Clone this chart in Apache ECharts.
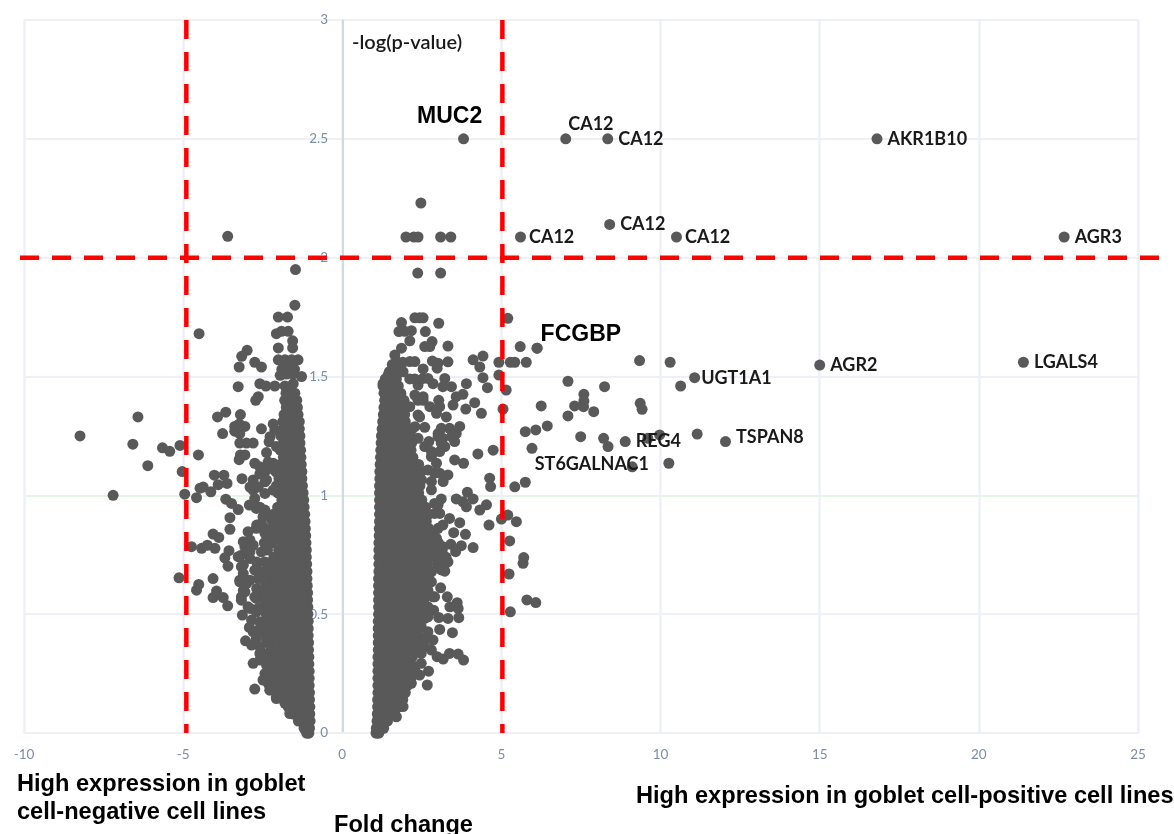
<!DOCTYPE html>
<html><head><meta charset="utf-8">
<style>html,body{margin:0;padding:0;background:#fff}#c{width:1174px;height:834px}</style>
<script src="https://cdn.jsdelivr.net/npm/echarts@6/dist/echarts.min.js"></script>
</head><body><div id="c"></div>
<script>
const xTicks=[-10,25];
const yTicks=[0,3];
// dense body of the negative fold-change arm: [y, x, x, ...]
const negDense=[
[0,-1.05,-1.08,-1.12],[.02,-1.03,-1.1,-1.2],[.05,-1.01,-1.15,-1.3,-1.38],
[.08,-1.02,-1.2,-1.38,-1.54],[.11,-1.02,-1.22,-1.45,-1.7],[.14,-1.03,-1.16,-1.38,-1.62,-1.84],
[.17,-1.03,-1.26,-1.5,-1.75,-1.98],[.2,-1.04,-1.16,-1.4,-1.65,-1.88,-2.09],[.23,-1.04,-1.28,-1.52,-1.76,-2,-2.2],
[.26,-1.04,-1.16,-1.4,-1.65,-1.88,-2.12,-2.29],[.29,-1.05,-1.28,-1.52,-1.76,-2,-2.25],[.32,-1.05,-1.16,-1.4,-1.65,-1.88,-2.12,-2.3],
[.35,-1.06,-1.28,-1.52,-1.76,-2,-2.25],[.38,-1.06,-1.16,-1.4,-1.65,-1.88,-2.12,-2.35],[.41,-1.07,-1.28,-1.52,-1.76,-2,-2.25],
[.44,-1.07,-1.16,-1.4,-1.65,-1.88,-2.12,-2.37],[.47,-1.07,-1.28,-1.52,-1.76,-2,-2.25,-2.45],[.5,-1.08,-1.16,-1.4,-1.65,-1.88,-2.12,-2.38],
[.53,-1.08,-1.28,-1.52,-1.76,-2,-2.25,-2.49],[.56,-1.09,-1.18,-1.4,-1.65,-1.88,-2.12,-2.35],[.59,-1.09,-1.28,-1.52,-1.76,-2,-2.25,-2.53],
[.62,-1.1,-1.18,-1.4,-1.65,-1.88,-2.12,-2.37],[.65,-1.11,-1.28,-1.52,-1.76,-2,-2.25],[.68,-1.11,-1.2,-1.4,-1.65,-1.88,-2.12,-2.33],
[.71,-1.12,-1.3,-1.52,-1.76,-2,-2.27],[.74,-1.13,-1.2,-1.4,-1.65,-1.88,-2.15],[.77,-1.13,-1.3,-1.52,-1.76,-2,-2.35],
[.8,-1.14,-1.2,-1.4,-1.65,-1.88,-2.19,-2.45],[.83,-1.15,-1.3,-1.52,-1.76,-2.03,-2.33],[.86,-1.16,-1.22,-1.4,-1.65,-1.88,-2.17,-2.41],
[.89,-1.17,-1.32,-1.52,-1.76,-2.05],[.92,-1.18,-1.25,-1.42,-1.65,-1.9,-2.17],[.95,-1.2,-1.35,-1.55,-1.78,-2.03],
[.98,-1.21,-1.27,-1.42,-1.65,-1.9],[1.01,-1.23,-1.35,-1.55,-1.78,-2.03],[1.04,-1.25,-1.3,-1.42,-1.65,-1.87,-2.07],
[1.07,-1.27,-1.37,-1.55,-1.78,-1.99],[1.1,-1.27,-1.33,-1.45,-1.65,-1.87,-2.09],[1.13,-1.29,-1.39,-1.55,-1.78,-1.95],
[1.16,-1.3,-1.35,-1.47,-1.66,-1.85],[1.19,-1.31,-1.41,-1.57,-1.78,-1.95],[1.22,-1.33,-1.37,-1.49,-1.66,-1.85],
[1.25,-1.33,-1.43,-1.57,-1.76,-1.93],[1.28,-1.35,-1.41,-1.5,-1.68,-1.85],[1.31,-1.35,-1.45,-1.6,-1.78,-1.87],
[1.34,-1.39,-1.43,-1.52,-1.68,-1.83],[1.37,-1.41,-1.47,-1.6,-1.76],[1.4,-1.43,-1.49,-1.66,-1.81],[1.43,-1.49,-1.59,-1.72,-1.77]
];
// dense body of the positive fold-change arm: [y, x, x, ...]
const posDense=[
[0,1.06,1.1,1.15],[.02,1.07,1.18,1.3],[.05,1.09,1.25,1.42],[.08,1.1,1.27,1.48,1.65],
[.11,1.11,1.23,1.46,1.66,1.78],[.14,1.11,1.34,1.58,1.8,1.9],[.17,1.12,1.23,1.46,1.7,1.9,1.98],
[.2,1.12,1.34,1.58,1.82,2.05],[.23,1.12,1.23,1.46,1.7,1.94,2.16],[.26,1.12,1.34,1.58,1.82,2.05,2.14],
[.29,1.12,1.23,1.46,1.7,1.94,2.16],[.32,1.12,1.34,1.58,1.82,2.05,2.2],[.35,1.13,1.23,1.46,1.7,1.94,2.18,2.34],
[.38,1.13,1.34,1.58,1.82,2.05,2.28,2.48],[.41,1.13,1.23,1.46,1.7,1.94,2.18,2.39],[.44,1.13,1.34,1.58,1.82,2.05,2.28],
[.47,1.13,1.23,1.46,1.7,1.94,2.18,2.34],[.5,1.14,1.34,1.58,1.82,2.05,2.28,2.48],[.53,1.14,1.23,1.46,1.7,1.94,2.18,2.42],
[.56,1.14,1.34,1.58,1.82,2.05,2.28,2.56],[.59,1.14,1.23,1.46,1.7,1.94,2.18,2.42,2.6],[.62,1.14,1.34,1.58,1.82,2.05,2.28,2.54],
[.65,1.14,1.23,1.46,1.7,1.94,2.18,2.42,2.68],[.68,1.15,1.34,1.58,1.82,2.05,2.28,2.54,2.79],[.71,1.15,1.23,1.46,1.7,1.94,2.18,2.42,2.67,2.99,3.22],
[.74,1.15,1.34,1.58,1.82,2.05,2.28,2.54,2.79,3.04,3.26],[.77,1.15,1.23,1.46,1.7,1.94,2.18,2.42,2.67,2.92,3.14],[.8,1.15,1.34,1.58,1.82,2.05,2.28,2.54,2.79,3.02],
[.83,1.16,1.23,1.46,1.7,1.94,2.18,2.42,2.67,2.89],[.86,1.16,1.34,1.58,1.82,2.05,2.28,2.54,2.72],[.89,1.17,1.23,1.46,1.7,1.94,2.18,2.42,2.64],
[.92,1.17,1.34,1.58,1.82,2.05,2.28,2.54,2.7],[.95,1.17,1.25,1.46,1.7,1.94,2.18,2.42,2.62],[.98,1.17,1.34,1.58,1.82,2.05,2.28,2.5],
[1.01,1.17,1.25,1.46,1.7,1.94,2.18,2.4],[1.04,1.17,1.34,1.58,1.82,2.05,2.28,2.44],[1.07,1.18,1.25,1.46,1.7,1.94,2.18,2.4],
[1.1,1.18,1.34,1.58,1.82,2.05,2.28,2.48],[1.13,1.19,1.25,1.46,1.7,1.94,2.14,2.4],[1.16,1.2,1.34,1.58,1.82,2.05,2.22],
[1.19,1.21,1.27,1.46,1.7,1.94,2.16],[1.22,1.22,1.37,1.58,1.82,2.05,2.18],[1.25,1.23,1.29,1.46,1.7,1.94,2.14],
[1.28,1.25,1.38,1.58,1.82,2.05,2.2],[1.31,1.27,1.33,1.48,1.7,1.92,1.98],[1.34,1.29,1.41,1.58,1.82,1.96],
[1.37,1.31,1.37,1.5,1.7,1.88],[1.4,1.33,1.43,1.58,1.82,1.94],[1.43,1.31,1.39,1.52,1.7,1.84],
[1.46,1.28,1.45,1.6,1.76],[1.49,1.35,1.49,1.7],[1.52,1.48,1.64],[1.55,1.57,1.7]
];
// clumped points along the outer edge of each body
const negEdge=[[-2.54,.882],[-2.7,.861],[-2.43,.84],[-2.9,.812],[-3.06,.784],[-2.8,.79],[-2.54,.762],[-2.38,.784],[-3.17,.748],[-2.9,.734],[-2.69,.72],[-2.43,.72],[-3.11,.706],[-2.75,.685],[-2.49,.678],[-3.22,.643],[-2.9,.643],[-2.64,.65],[-2.43,.636],[-3.11,.6],[-2.69,.608],[-2.43,.6],[-3.17,.573],[-2.7,.566],[-2.43,.559],[-2.9,.524],[-2.64,.524],[-2.43,.51],[-2.85,.475],[-2.59,.468],[-2.38,.468],[-2.8,.426],[-2.43,.419],[-2.7,.398],[-2.38,.391],[-2.59,.335],[-2.38,.328],[-2.38,.286],[-2.43,.25],[-2.22,.244],[-2.33,.209],[-2.12,.18],[-2.07,.145],[-1.8,.125],[-1.65,.082],[-2.7,.945],[-2.43,.938],[-2.49,.91],[-2.22,.896],[-2.59,1.09],[-2.38,1.106],[-2.8,1.022],[-2.43,1.008],[-2.17,1.022],[-2.12,1.275],[-2.27,1.247],[-2.07,1.205],[-2.17,1.135],[-2.01,1.09],[-2.43,1.057]];
const posEdge=[[1.44,1.506],[1.28,1.47],[1.6,1.54],[1.91,1.52],[2.38,1.464],[2.54,1.492],[2.28,1.422],[2.54,1.4],[2.38,1.4],[2.12,1.373],[2.38,1.338],[2.28,1.289],[2.12,1.26],[2.38,1.24],[2.59,1.205],[2.8,1.163],[2.69,1.107],[2.9,1.093],[2.49,1.065],[2.8,1.023],[3.01,1.26],[3.16,1.24],[3.43,1.247],[3.22,1.205],[3.06,1.184],[2.9,.966],[3.06,.924],[2.9,.924],[3.01,.861],[2.96,.819],[3.16,.784],[2.9,.756],[3.16,.749],[3.01,.707],[2.8,.678],[3.11,.686],[2.8,.636],[2.69,.601],[2.9,.573],[2.69,.531],[2.59,.482],[2.69,.489],[2.48,.447],[2.69,.426],[2.59,.398],[2.59,.363],[2.48,.335],[2.28,.265],[2.17,.209],[1.91,.111],[1.7,.068]];
// individually readable points, negative arm
const negSparse=[[-8.24,1.25],[-7.2,1],[-6.42,1.33],[-6.58,1.215],[-6.11,1.125],[-5.65,1.2],[-5.42,1.185],[-5.1,1.21],[-5.03,1.1],[-4.52,1.17],[-4.5,1.68],[-3.6,2.09],
[-1.47,1.95],[-1.49,1.8],[-2.01,1.75],[-1.72,1.75],[-2.07,1.68],[-1.91,1.69],[-1.7,1.69],[-1.56,1.65],[-2.01,1.62],[-1.56,1.62],[-2.99,1.61],[-3.16,1.585],[-2.75,1.56],[-2.54,1.54],[-3.24,1.54],
[-2.01,1.57],[-1.8,1.57],[-1.59,1.57],[-1.39,1.57],[-1.9,1.53],[-1.7,1.53],[-1.5,1.53],[-1.28,1.5],[-1.95,1.505],[-1.75,1.51],[-1.55,1.51],[-3.27,1.457],[-2.59,1.47],[-2.4,1.46],[-2.12,1.46],[-1.8,1.46],[-1.54,1.47],[-2.64,1.415],[-2.72,1.4],
[-3.66,1.35],[-3.92,1.33],[-3.2,1.34],[-3.38,1.29],[-3.24,1.3],[-3.06,1.29],[-3.38,1.27],[-3.22,1.26],[-3.76,1.26],[-2.54,1.28],[-2.3,1.225],[-2.17,1.3],[-3.22,1.22],[-3.01,1.22],[-2.8,1.22],[-3.06,1.17],[-3.2,1.17],[-3.24,1.15],[-2.38,1.18],[-2.75,1.135],[-2.33,1.14],
[-4.02,1.085],[-3.72,1.085],[-3.9,1.045],[-3.62,1.05],[-3.15,1.07],[-2.8,1.065],[-4.47,1.03],[-4.37,1.035],[-4.13,1.015],[-4.95,1.005],[-4.58,.99],[-2.9,1.035],[-2.64,1.035],[-2.38,1.065],[-2.54,1.105],[-2.59,1.12],
[-3.66,.984],[-3.48,.966],[-3.27,.94],[-3.53,.906],[-3.53,.857],[-4.06,.837],[-3.88,.823],[-4.74,.784],[-4.42,.777],[-4.24,.79],[-4,.777],[-3.56,.767],[-3.69,.737],[-3.59,.702],[-5.13,.653],[-4.06,.65],[-4.51,.625],[-4.58,.601],[-3.95,.597],[-4.06,.57],[-3.74,.57],[-3.6,.535],
[-2.92,.959],[-2.75,.987],[-2.59,.95],[-2.69,.875],[-2.96,.847],[-3.11,.805],[-2.9,.763],[-3.27,.742],[-3.17,.7],[-3.11,.671],[-2.69,.692],[-3.22,.636],[-3.01,.629],[-3.06,.594],[-3.17,.559],[-2.96,.531],[-3.14,.496],[-2.75,.573],[-2.7,.51],[-2.92,.444],[-2.64,.433],[-3.04,.388],[-2.85,.37],[-2.59,.363],[-2.8,.293],[-2.59,.307],[-2.49,.335],[-2.75,.185],[-2.49,.223],[-2.28,.18],[-2.07,.15]];
// individually readable points, positive arm
const posSparse=[[2.47,2.23],[2,2.087],[2.25,2.087],[2.38,2.087],[3.09,2.087],[3.41,2.087],[2.37,1.935],[3.09,1.935],
[2.28,1.747],[2.43,1.747],[2.54,1.747],[1.86,1.727],[3.03,1.724],[1.78,1.689],[2.17,1.693],[1.96,1.69],[2.61,1.689],[2.12,1.65],[2.82,1.647],[2.59,1.626],[2.75,1.626],[3.32,1.628],[1.86,1.619],[1.65,1.59],[1.7,1.563],[1.9,1.56],[2.12,1.563],[2.28,1.563],[2.83,1.565],[3.01,1.556],[3.32,1.562],[2.98,1.535],[2.54,1.532],
[4.11,1.57],[4.42,1.586],[4.32,1.54],[4.92,1.56],[5.2,1.745],[5.59,1.626],[5.28,1.56],[5.42,1.56],[5.78,1.56],[4.92,1.506],[4.42,1.495],[3.9,1.47],[4.56,1.453],[5.15,1.443],[2.85,1.47],[3.22,1.492],[3.16,1.457],[3.43,1.457],[2.69,1.492],[2.28,1.49],[2.12,1.49],
[3.79,1.425],[3.58,1.415],[3.48,1.38],[4.16,1.39],[3.88,1.363],[4.37,1.345],[5.05,1.363],[3.03,1.4],[2.75,1.373],[3.06,1.373],[2.96,1.345],[2.54,1.415],[3.27,1.33],[2.43,1.33],[2.59,1.286],[3.69,1.29],[3.37,1.282],[3.11,1.282],[3.01,1.247],[3.58,1.26],[3.53,1.226],[2.72,1.226],[3.11,1.219],[2.8,1.184],
[4.26,1.174],[4.74,1.19],[3.53,1.149],[3.81,1.135],[2.96,1.135],[3.32,1.086],[3.17,1.058],[2.8,1.058],[3.06,1.093],[4.63,1.072],[4.66,1.037],[5.42,1.036],[5.75,1.055],[3.93,1.013],[3.58,.985],[4.11,.985],[3.79,.973],[3.9,.952],[3.11,.985],[3.01,.96],[4.53,.96],[4.32,.938],
[5.2,.917],[5,.9],[5.47,.889],[4.61,.875],[5.26,.808],[5.7,.738],[5.68,.714],[5.24,.669],[5.8,.56],[6.08,.549],[5.28,.51],
[3.69,.885],[3.37,.903],[3.16,.875],[3.5,.843],[3.87,.836],[3.41,.794],[3.74,.788],[3.56,.763],[4.11,.78],[3.32,.72],[3.22,.681],[3.09,.611],[3.3,.573],[3.61,.548],[3.38,.531],[3.64,.524],[2.87,.517],[3.66,.485],[3.32,.482],[3.03,.486],[3.06,.436],[3.46,.422],[2.85,.573],[2.85,.391],[2.8,.349],[2.98,.321],[3.17,.311],[3.37,.335],[3.64,.332],[3.81,.307],[2.48,.293],[2.71,.26],[2.43,.244],[2.67,.202],
[6.12,1.619],[9.34,1.567],[10.3,1.56],[10.63,1.46],[7.09,1.48],[8.24,1.457],[7.59,1.425],[7.59,1.397],[7.3,1.376],[7.58,1.373],[7.9,1.352],[6.25,1.376],[7.09,1.334],[9.36,1.387],[9.42,1.362],[6.44,1.292],[6.08,1.275],[5.75,1.268],[7.49,1.247],[8.21,1.24],[8.35,1.205],[9.6,1.24],[9.97,1.254],[11.15,1.258],[5.96,1.198],[10.26,1.135]];
// named genes
const geneNames=['MUC2','CA12','CA12','AKR1B10','CA12','CA12','CA12','AGR3','FCGBP','LGALS4','AGR2','UGT1A1','TSPAN8','REG4','ST6GALNAC1'];
const geneX=[3.81,7.02,8.34,16.8,8.4,5.6,10.5,22.68,6.12,21.4,15,11.07,12.04,8.89,9.11];
const geneY=[2.5,2.5,2.5,2.5,2.14,2.087,2.087,2.087,1.619,1.56,1.548,1.495,1.226,1.226,1.12];
const geneLabelOffset=[[-57,-22],[-8,-15],[0,0],[0,0],[0,0],[-2,0],[-2,0],[0,0],[-7,-14],[0,0],[0,0],[-4,0],[0,-4],[0,0],[-108,-3]];
const bigGenes=['MUC2','FCGBP'];
const yThreshold=2, xThresholds=[-4.9,5.03];
const hThresholdSpan=[0,1];
const yAxisLabel='-log(p-value)';
const captionLeft=['High expression in goblet','cell-negative cell lines'];
const captionRight='High expression in goblet cell-positive cell lines';
const captionBottom='Fold change';

const expand=rows=>rows.flatMap(r=>r.slice(1).map(x=>[x,r[0]]));
const cloud=[...expand(negDense),...expand(posDense),...negEdge,...posEdge,...negSparse,...posSparse];
const dot='#595959', sans='Lato, sans-serif', head='"Liberation Sans", Arial, sans-serif';
const red={color:'#ff0000',width:4.5,type:[19,13]};
const gridC='#edf1f7';
const chart=echarts.init(document.getElementById('c'),null,{renderer:'canvas'});
const redLine=(data,extra)=>({type:'line',data,symbol:'none',silent:true,clip:false,z:6,animation:false,lineStyle:red,...extra});
chart.setOption({
 animation:false,backgroundColor:'#fff',
 grid:[{left:24,right:36,top:20,bottom:101,outerBoundsMode:'none'},
       {left:20,right:2,top:20,bottom:101,outerBoundsMode:'none'}],
 xAxis:[{type:'value',min:xTicks[0],max:xTicks[1],interval:5,gridIndex:0,
  axisLine:{onZero:false,lineStyle:{color:gridC,width:2}},axisTick:{show:false},
  axisLabel:{color:'#7d8da6',fontFamily:sans,fontSize:13.5,margin:15},
  splitLine:{show:true,lineStyle:{color:gridC,width:2.5}}},
  {type:'value',min:0,max:1,gridIndex:1,show:false}],
 yAxis:[{type:'value',min:yTicks[0],max:yTicks[1],interval:.5,gridIndex:0,
  axisLine:{show:true,onZero:true,lineStyle:{color:'#c6d1e2',width:1.5}},axisTick:{show:false},
  axisLabel:{color:'#7d8da6',fontFamily:sans,fontSize:13.5,margin:-304},
  splitLine:{show:true,lineStyle:{color:[gridC,gridC,'#e6f6e6',gridC,gridC,gridC,gridC],width:2}}},
  {type:'value',min:yTicks[0],max:yTicks[1],gridIndex:1,show:false}],
 series:[
  {type:'scatter',data:cloud,symbolSize:11,itemStyle:{color:dot,opacity:1},silent:true,z:3,large:false},
  {type:'scatter',symbolSize:11,silent:true,z:4,itemStyle:{color:dot,opacity:1},
   data:geneNames.map((n,i)=>{const big=bigGenes.includes(n);return {name:n,value:[geneX[i],geneY[i]],
    label:{show:true,position:'right',formatter:n,offset:geneLabelOffset[i],color:big?'#000':'#1a1a1a',
     fontFamily:big?head:sans,fontWeight:'bold',fontSize:big?23:18}}})},
  redLine(hThresholdSpan.map(x=>[x,yThreshold]),{xAxisIndex:1,yAxisIndex:1}),
  redLine(yTicks.map(y=>[xThresholds[0],y]).reverse()),
  redLine(yTicks.map(y=>[xThresholds[1],y]).reverse())
 ],
 graphic:[
  {type:'text',left:352,top:33,z:10,style:{text:yAxisLabel,fill:'#1a1a1a',font:'600 20px '+sans}},
  {type:'text',left:17,top:772,z:10,style:{text:captionLeft[0],fill:'#000',font:'bold 23.6px '+head}},
  {type:'text',left:17,top:800,z:10,style:{text:captionLeft[1],fill:'#000',font:'bold 23.6px '+head}},
  {type:'text',left:636,top:784,z:10,style:{text:captionRight,fill:'#000',font:'bold 23.6px '+head}},
  {type:'text',left:334,top:813,z:10,style:{text:captionBottom,fill:'#000',font:'bold 23.6px '+head}}
 ]
});
</script></body></html>
